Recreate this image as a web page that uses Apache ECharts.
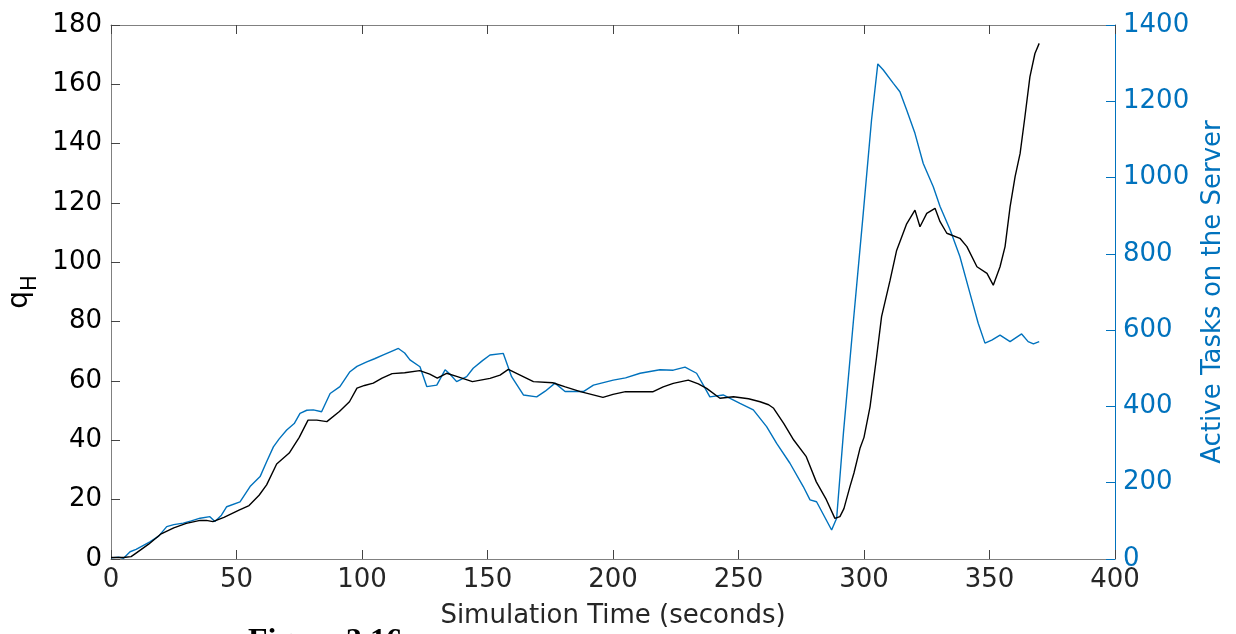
<!DOCTYPE html>
<html>
<head>
<meta charset="utf-8">
<script src="https://cdn.jsdelivr.net/npm/echarts@6/dist/echarts.min.js"></script>
<style>
html,body{margin:0;padding:0;background:#fff;}
#c{width:1236px;height:634px;}
</style>
</head>
<body>
<div id="c"></div>
<script>
// Simulation time (s) and q_H (left axis)
const qTime = [0,5,8,10,15,20,25,30,35.5,38,40.6,45,51,55,59,62,66,71,75,78.5,82,86,91,95,98,101,104.5,108,112,117,123,127,130,133.7,138,144,151,155,158.3,163,168.3,176,181,187,196,200,205,216,220,224,230,234,237.3,242.6,248,254,258.6,262,264,268,272,277,281,285,288.4,290.4,292,294.4,296,298.4,300,302.4,305,307,310.4,313,317,320.3,322.3,325,328.3,330.3,333,338.2,341,345,349,351.5,354.2,356.2,358.2,360.2,362.2,364.1,366.1,368.1,369.8];
const qH = [0.5,0.5,0.8,2,5,8.5,10.5,12,13,13,12.6,14,16.5,18,21.5,25,32,35.7,41,46.8,46.8,46.3,49.7,53,57.6,58.5,59.3,61,62.5,62.8,63.5,62.3,61,62.6,61.5,59.8,60.9,62,63.9,62,59.8,59.4,58,56.4,54.5,55.5,56.4,56.4,58,59.2,60.3,59,57.5,54.2,54.7,54,53,52,50.8,45.7,40.1,34.5,26,20,13.7,14.3,17,24.4,29,37.3,41,51.3,68,81.7,94,104,113,117.6,112,116.5,118.2,113.7,109.8,108.1,105.3,98.5,96.3,92.3,98.5,105.3,118.7,128.9,136.7,149,162.5,170.4,173.8];

// Simulation time (s) and active tasks on the server (right axis)
const taskTime = [0,3,5,7.6,10,15.5,19,22.2,25,28.8,32,35.5,39.4,41.4,44,46.1,51.4,55.4,59.4,62,64.7,67,70,73,75.3,78,80.6,83.9,87.3,91.2,95.2,98,101.9,105,108.5,112,114.5,117,119.1,123.1,125.8,129.8,133.1,135,137.7,141.7,144.3,148,151,156.3,159.6,164.3,169.6,173,176.9,180.9,188.2,192.2,200.1,205,210.8,218.7,224,228.7,233.3,236,238.6,243.9,250.6,255.9,261.2,265.2,270.5,275.8,278.5,281.1,287.1,289.1,291.8,295.7,299.7,303,305.5,307.7,311.7,314.3,317,320.3,323.6,327.6,330.3,334.3,338.2,342.2,345.5,348.2,350.9,354.2,358.2,362.8,365.4,367.5,369.8];
const tasks = [3,5,2,19,25,45,60,85,90,94,100,107,111,98,115,137,150,190,216,255,294,315,338,355,382,390,391,386,434,452,491,505,517,525,535,545,552,540,522,504,452,456,496,485,465,478,500,520,535,539,478,430,425,440,461,439,439,456,469,475,487,496,495,503,487,456,425,430,408,391,347,303,251,190,155,150,76,107,330,618,906,1151,1298,1282,1247,1225,1177,1116,1037,976,924,863,793,697,618,566,574,587,570,590,570,564,570];

const xTicks = [0,50,100,150,200,250,300,350,400];
const leftTicks = [0,20,40,60,80,100,120,140,160,180];
const rightTicks = [0,200,400,600,800,1000,1200,1400];

const FONT = 'DejaVu Sans';
const BLUE = '#0072BD';
const GREY = '#808080';

const chart = echarts.init(document.getElementById('c'), null, {renderer:'canvas'});
chart.setOption({
  animation:false,
  backgroundColor:'#fff',
  grid:{left:111, right:121, top:25, bottom:75, containLabel:false, outerBoundsMode:'none'},
  xAxis:[{
    type:'value', min:xTicks[0], max:xTicks[xTicks.length-1], interval:50,
    name:'Simulation Time (seconds)', nameLocation:'middle', nameGap:44,
    nameTextStyle:{fontFamily:FONT, fontSize:26, color:'#262626'},
    axisLine:{show:true, onZero:false, lineStyle:{color:GREY, width:1}},
    axisTick:{show:true, inside:true, length:9, lineStyle:{color:'#444'}},
    axisLabel:{fontFamily:FONT, fontSize:26, color:'#262626', margin:8, formatter:v=>String(v)},
    splitLine:{show:false}
  },{
    type:'value', position:'top', min:0, max:400, interval:50,
    axisLine:{show:true, onZero:false, lineStyle:{color:GREY, width:1}},
    axisTick:{show:true, inside:true, length:9, lineStyle:{color:'#444'}},
    axisLabel:{show:false}, splitLine:{show:false}
  }],
  yAxis:[{
    type:'value', position:'left', min:0, max:180, interval:20,
    name:'{q|q}{h|H}', nameLocation:'middle', nameGap:66, nameRotate:90,
    nameTextStyle:{rich:{
      q:{fontFamily:FONT, fontSize:28, color:'#000', verticalAlign:'bottom', lineHeight:34},
      h:{fontFamily:FONT, fontSize:21, color:'#000', verticalAlign:'bottom', lineHeight:34, padding:[0,0,-8,0]}
    }},
    axisLine:{show:true, onZero:false, lineStyle:{color:GREY, width:1}},
    axisTick:{show:true, inside:true, length:9, lineStyle:{color:'#444'}},
    axisLabel:{fontFamily:FONT, fontSize:26, color:'#000', margin:9, formatter:v=>String(v)},
    splitLine:{show:false}
  },{
    type:'value', position:'right', min:0, max:1400, interval:200,
    name:'Active Tasks on the Server', nameLocation:'middle', nameGap:77, nameRotate:90,
    nameTextStyle:{fontFamily:FONT, fontSize:26, color:BLUE},
    axisLine:{show:true, onZero:false, lineStyle:{color:BLUE, width:1}},
    axisTick:{show:true, inside:true, length:9, lineStyle:{color:BLUE}},
    axisLabel:{fontFamily:FONT, fontSize:26, color:BLUE, margin:8, formatter:v=>String(v)},
    splitLine:{show:false}
  }],
  series:[{
    type:'line', name:'Active Tasks', xAxisIndex:0, yAxisIndex:1,
    data:taskTime.map((t,i)=>[t,tasks[i]]),
    showSymbol:false, symbol:'none', smooth:false,
    lineStyle:{color:BLUE, width:1.4}, z:3
  },{
    type:'line', name:'qH', xAxisIndex:0, yAxisIndex:0,
    data:qTime.map((t,i)=>[t,qH[i]]),
    showSymbol:false, symbol:'none', smooth:false,
    lineStyle:{color:'#000', width:1.4}, z:4
  }],
  graphic:[{
    type:'text', left:248, top:626,
    style:{text:'Figure 3.16', font:'bold 32px "Liberation Serif"', fill:'#000'}
  }]
});
</script>
</body>
</html>
